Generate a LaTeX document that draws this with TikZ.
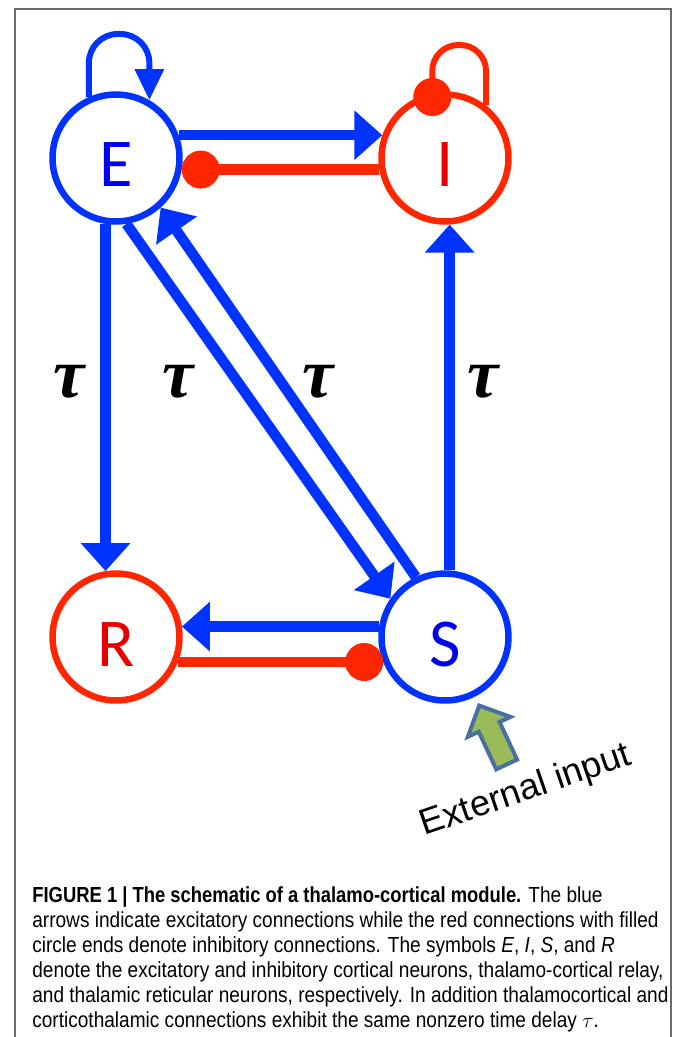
\documentclass[tikz,border=0pt]{standalone}
\usepackage{amsmath,amsfonts}
\usepackage{xcolor}
\usepackage{fontspec}
\usepackage{tikz}
\usetikzlibrary{arrows.meta,shapes.arrows}
\newfontfamily\cellfont{Carlito}
\newfontfamily\extfont{Liberation Sans}
\newfontfamily\capfont[FakeStretch=0.875,BoldFeatures={FakeStretch=0.845}]{Liberation Sans}
\newfontfamily\taufont{Liberation Serif}
\definecolor{excblue}{RGB}{0,51,255}
\definecolor{inhred}{RGB}{255,38,0}
\definecolor{txtblue}{RGB}{0,0,240}
\definecolor{txtred}{RGB}{232,0,0}
\definecolor{inputgreen}{RGB}{155,187,89}
\definecolor{inputedge}{RGB}{74,112,160}
\definecolor{framegray}{RGB}{105,105,105}
\tikzset{
  neuron/.style={draw,circle,minimum size=2.54cm,inner sep=0pt,line width=0.13cm,fill=white,
    font=\cellfont\fontsize{39}{39}\selectfont,text height=1.16cm,text depth=0pt},
  excit/.style={draw=excblue,line width=0.21cm,-{Triangle[length=0.56cm,width=0.96cm]}},
  inhib/.style={draw=inhred,line width=0.21cm,-{Circle[length=0.76cm,width=0.76cm]}},
  selfexc/.style={draw=excblue,line width=0.12cm,rounded corners=0.58cm,-{Triangle[length=0.62cm,width=0.56cm]}},
  selfinh/.style={draw=inhred,line width=0.12cm,rounded corners=0.52cm,-{Circle[length=0.76cm,width=0.76cm]},shorten >=-0.47cm},
  delay/.style={font=\taufont\bfseries\itshape\fontsize{40}{40}\selectfont},
  inputarrow/.style={single arrow,draw=inputedge,fill=inputgreen,line width=0.08cm,inner sep=0.19cm,
    minimum height=1.3cm,single arrow head extend=0.24cm}
}
\begin{document}
\begin{tikzpicture}[x=0.02cm,y=-0.02cm]
    \useasboundingbox (0,0) rectangle (673,1037);
    \draw[framegray,line width=0.03cm] (15,1037) -- (15,9) -- (671,9) -- (671,1037);
    \node[neuron,draw=excblue,text=txtblue] (E) at (116,158) {E};
    \node[neuron,draw=inhred,text=txtred] (I) at (445,158) {I};
    \node[neuron,draw=inhred,text=txtred] (R) at (116,637) {R};
    \node[neuron,draw=excblue,text=txtblue] (S) at (445,637) {S};
    \coordinate (Etop) at (119,34);
    \coordinate (Itop) at (459,45);
    \draw[selfexc] (E.114) |- (E.60 |- Etop) -- (E.60);
    \draw[selfinh] (I.52) |- (I.101 |- Itop) -- (I.101);
    \draw[excit] (E.20) to (I.160);
    \draw[inhib] (I.190) to (E.-10);
    \draw[excit] (E.261) to (R.99);
    \draw[excit] (E.-81) to (S.145);
    \draw[excit] (S.116) to (E.-48);
    \draw[excit] (S.86) to (I.274);
    \draw[excit] (S.171) to (R.9);
    \draw[inhib] (R.-22) to (S.202);
    \node[delay] (tauER) at (69,382) {τ};
    \node[delay] (tauES) at (178,382) {τ};
    \node[delay] (tauSE) at (318,382) {τ};
    \node[delay] (tauSI) at (483,382) {τ};
    \node[inputarrow,rotate=115,anchor=tip] (input) at (478,703) {};
    \node[rotate=19,anchor=base,font=\extfont\fontsize{20.5}{24}\selectfont] (inputlbl) at (529,800) {External input};
    \node[anchor=north west,align=left,inner sep=0pt,font=\capfont\fontsize{12.4}{14.3}\selectfont] (caption) at (32,886)
      {\textbf{FIGURE 1 | The schematic of a thalamo-cortical module.} The blue\\
       arrows indicate excitatory connections while the red connections with filled\\
       circle ends denote inhibitory connections. The symbols \textit{E}, \textit{I}, \textit{S}, and \textit{R}\\
       denote the excitatory and inhibitory cortical neurons, thalamo-cortical relay,\\
       and thalamic reticular neurons, respectively. In addition thalamocortical and\\
       corticothalamic connections exhibit the same nonzero time delay $\tau$.};
\end{tikzpicture}
\end{document}
